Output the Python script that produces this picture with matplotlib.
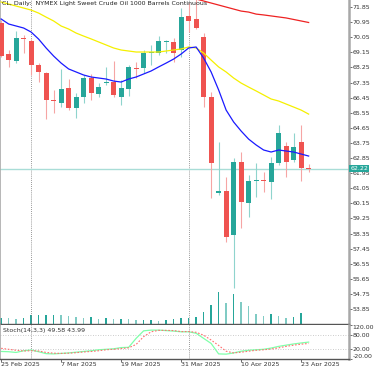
import numpy as np
import pandas as pd
import matplotlib
matplotlib.use("Agg")
import matplotlib.pyplot as plt

# Daily bars 25 Feb - 24 Apr 2025 (exchange closed on Good Friday)
dates = pd.bdate_range("2025-02-25", "2025-04-24")
dates = dates[dates != pd.Timestamp("2025-04-18")]

opens = [70.90, 69.05, 68.63, 70.01, 69.83, 68.40, 67.92, 66.31, 66.13, 67.03,
         65.83, 66.49, 67.62, 66.67, 67.32, 67.38, 66.49, 66.97, 68.22, 68.22,
         69.11, 69.11, 69.77, 69.77, 69.29, 71.32, 71.14, 70.06, 66.49, 60.77,
         60.89, 58.27, 62.62, 60.17, 61.48, 61.54, 61.42, 62.55, 63.57, 62.73,
         63.81, 62.26]
highs = [71.08, 69.29, 70.42, 70.18, 69.95, 68.52, 67.98, 66.91, 68.16, 67.56,
         66.73, 67.80, 67.86, 67.32, 68.28, 68.63, 67.50, 68.40, 68.57, 69.29,
         69.59, 70.12, 69.89, 70.01, 71.79, 72.09, 72.57, 70.30, 66.79, 63.81,
         61.72, 62.85, 63.21, 61.84, 62.55, 62.02, 62.91, 64.82, 63.81, 64.34,
         64.82, 62.50]
lows = [68.87, 68.28, 68.52, 69.11, 67.80, 67.38, 65.18, 65.54, 65.89, 65.71,
        65.24, 66.13, 66.31, 66.49, 67.20, 66.49, 66.01, 66.55, 67.62, 67.92,
        68.40, 68.99, 69.11, 68.57, 68.87, 70.36, 70.54, 65.89, 60.47, 60.65,
        57.85, 55.11, 58.68, 59.34, 60.53, 60.83, 60.41, 62.44, 61.72, 62.62,
        61.48, 62.02]
closes = [68.93, 68.69, 70.01, 69.95, 68.40, 67.98, 66.31, 66.25, 66.97, 65.83,
          66.49, 67.62, 66.73, 67.09, 67.38, 66.61, 67.03, 68.28, 68.16, 69.11,
          69.17, 69.83, 69.83, 69.11, 71.26, 71.02, 70.60, 66.49, 62.55, 60.89,
          58.15, 62.62, 60.23, 61.48, 61.54, 61.48, 62.55, 64.34, 62.62, 63.51,
          62.26, 62.22]
volumes = [180, 171, 141, 171, 261, 261, 270, 279, 261, 231,
           210, 189, 210, 141, 171, 159, 159, 141, 111, 111,
           111, 90, 111, 141, 180, 180, 210, 360, 570, 960,
           630, 891, 651, 540, 291, 240, 291, 240, 189, 210,
           321, 9]

# moving averages as drawn on the chart
ma_blue = [71.14, 70.84, 70.72, 70.60, 70.36, 69.94, 69.41, 68.93, 68.51, 68.16,
           67.98, 67.80, 67.68, 67.62, 67.56, 67.44, 67.38, 67.56, 67.68, 67.86,
           68.04, 68.28, 68.51, 68.75, 69.05, 69.41, 69.47, 68.81, 67.98, 66.91,
           65.71, 65.00, 64.46, 63.98, 63.63, 63.33, 63.21, 63.33, 63.27, 63.21,
           63.09, 62.97]
ma_yellow = [72.15, 72.03, 71.91, 71.79, 71.67, 71.49, 71.25, 71.02, 70.72, 70.54,
             70.30, 70.12, 69.95, 69.77, 69.59, 69.41, 69.29, 69.23, 69.17, 69.17,
             69.17, 69.17, 69.23, 69.29, 69.35, 69.47, 69.41, 69.11, 68.69, 68.28,
             67.98, 67.62, 67.32, 67.08, 66.85, 66.61, 66.37, 66.25, 66.07, 65.89,
             65.71, 65.47]
# slow average sits above the visible window before early April
ma_red = [np.nan] * 26 + [72.33, 72.21, 72.09, 71.97, 71.85, 71.73, 71.61, 71.55,
                          71.43, 71.38, 71.32, 71.26, 71.20, 71.11, 71.02, 70.93]

stoch_k = [11, 10, 7, 14, 17, 10, 2, 1, 3, 5,
           8, 11, 14, 18, 20, 22, 27, 28, 65, 96,
           99, 99, 97, 95, 92, 92, 86, 65, 44, 1,
           0, 5, 12, 16, 18, 20, 25, 32, 37, 42,
           46, 49.58]
stoch_d = [24, 20, 16, 13, 14, 13, 7, 4, 3, 4,
           6, 9, 11, 14, 18, 20, 23, 26, 40, 72,
           92, 98, 98, 97, 93, 93, 90, 78, 58, 36,
           12, 5, 8, 12, 16, 18, 21, 26, 32, 37,
           41, 43.99]

price_ticks = [71.85, 70.95, 70.05, 69.15, 68.25, 67.35, 66.45, 65.55, 64.65,
               63.75, 62.85, 61.95, 61.05, 60.15, 59.25, 58.35, 57.45, 56.55,
               55.65, 54.75, 53.85]
stoch_ticks = [120, 80, 20, -20]
date_tick_idx = [0, 8, 16, 24, 32, 40]

plt.rcParams['font.family'] = ['DejaVu Sans']
FS = 4.5
BULL, BEAR = '#26a69a', '#ef5350'
BULL_W, BEAR_W = '#8fd4cd', '#f6a5a4'

x = np.arange(len(closes))
o = np.array(opens)
c = np.array(closes)
up = c >= o

W, H = 375, 366
fig = plt.figure(figsize=(W / 100, H / 100), dpi=100)
rect_main = [0, 42 / H, 349 / W, 324 / H]
rect_st = [0, 7 / H, 349 / W, 34 / H]
xlim = (-0.15, -0.15 + 349 / 7.5)

# volume underneath the price panel
ax_v = fig.add_axes(rect_main)
vol = np.array(volumes)
vol_up = np.r_[True, vol[1:] >= vol[:-1]]
ax_v.bar(x, vol, width=0.22, color=np.where(vol_up, '#26a69a', '#80cbc4'))
ax_v.set_xlim(*xlim)
ax_v.set_ylim(0, 9720)
ax_v.axis('off')

ax = fig.add_axes(rect_main)
ax.set_facecolor('none')
ax.set_xlim(*xlim)
ax.set_ylim(52.96, 72.27)

ax.axhline(closes[-1], color='#a9ddd7', lw=1.0, zorder=1)

# candles
ax.vlines(x, lows, highs, colors=np.where(up, BULL_W, BEAR_W), lw=0.8, zorder=2)
body_lo = np.minimum(o, c)
body_h = np.maximum(np.abs(c - o), 0.06)
ax.bar(x, body_h, bottom=body_lo, width=0.66,
       color=np.where(up, BULL, BEAR), zorder=3)

ax.plot(x, ma_red, color='#ee2222', lw=0.9, zorder=4)
ax.plot(x, ma_yellow, color='#f5f000', lw=0.9, zorder=4)
ax.plot(x, ma_blue, color='#1a1aff', lw=0.9, zorder=4)

ax.yaxis.tick_right()
ax.set_yticks(price_ticks)
ax.set_yticklabels([f"{t:.2f}" for t in price_ticks])
ax.tick_params(axis='y', labelsize=FS, length=2, width=0.5, pad=0.5,
               colors='#333333')
ax.set_xticks([])
for s in ('top', 'left'):
    ax.spines[s].set_visible(False)
ax.spines['right'].set_color('#a8a8a8')
ax.spines['right'].set_linewidth(1.8)
ax.spines['bottom'].set_color('#555555')
ax.spines['bottom'].set_linewidth(1.0)
ax.axvline(xlim[0], color='#aaaaaa', lw=1.2)

# last price tag on the scale
ax.annotate(f"{closes[-1]:.2f}", xy=(1.004, closes[-1]),
            xycoords=('axes fraction', 'data'), ha='left', va='center',
            fontsize=FS, color='white', annotation_clip=False,
            bbox=dict(boxstyle='square,pad=0.15', fc=BULL, ec='none'))

fig.text(2 / W, 1 - 5 / H,
         "CL, Daily:  NYMEX Light Sweet Crude Oil 1000 Barrels Continuous",
         fontsize=FS, color='#222222', va='baseline', ha='left')

# stochastic panel
ax_st = fig.add_axes(rect_st)
ax_st.set_xlim(*xlim)
ax_st.set_ylim(-20, 120)
for lvl in (80, 20):
    ax_st.axhline(lvl, color='#bbbbbb', lw=0.6, ls=(0, (1, 2)))
ax_st.plot(x, stoch_k, color='#80ffaa', lw=0.9)
ax_st.plot(x, stoch_d, color='#ff7070', lw=0.8, ls=(0, (1.5, 1.5)))
ax_st.text(3 / 349, 0.83, f"Stoch(14,3,3) {stoch_k[-1]:.2f} {stoch_d[-1]:.2f}",
           transform=ax_st.transAxes, fontsize=FS, color='#333333', va='center')

# month separators through both panels
sep = [i for i in range(1, len(dates)) if dates[i].month != dates[i - 1].month]
for a in (ax, ax_st):
    for i in sep:
        a.axvline(i, color='#777777', lw=0.6, ls=(0, (1, 1.5)), zorder=0.5)

ax_st.yaxis.tick_right()
ax_st.set_yticks(stoch_ticks)
ax_st.set_yticklabels([f"{t:.2f}" for t in stoch_ticks])
ax_st.tick_params(axis='y', labelsize=FS, length=2, width=0.5, pad=0.5,
                  colors='#333333')
yl = ax_st.get_yticklabels()
yl[0].set_va('top')
yl[-1].set_va('bottom')

ax_st.set_xticks(date_tick_idx)
ax_st.set_xticklabels([f"{dates[i].day} {dates[i]:%b %Y}" for i in date_tick_idx])
ax_st.tick_params(axis='x', labelsize=FS, length=2, width=0.5, pad=0.3,
                  colors='#333333')
for lbl in ax_st.get_xticklabels():
    lbl.set_ha('left')
ax_st.spines['top'].set_visible(False)
ax_st.spines['left'].set_color('#aaaaaa')
ax_st.spines['left'].set_linewidth(1.2)
ax_st.spines['right'].set_color('#a8a8a8')
ax_st.spines['right'].set_linewidth(1.8)
ax_st.spines['bottom'].set_color('#555555')
ax_st.spines['bottom'].set_linewidth(1.0)

fig.savefig("out.png", dpi=100)
